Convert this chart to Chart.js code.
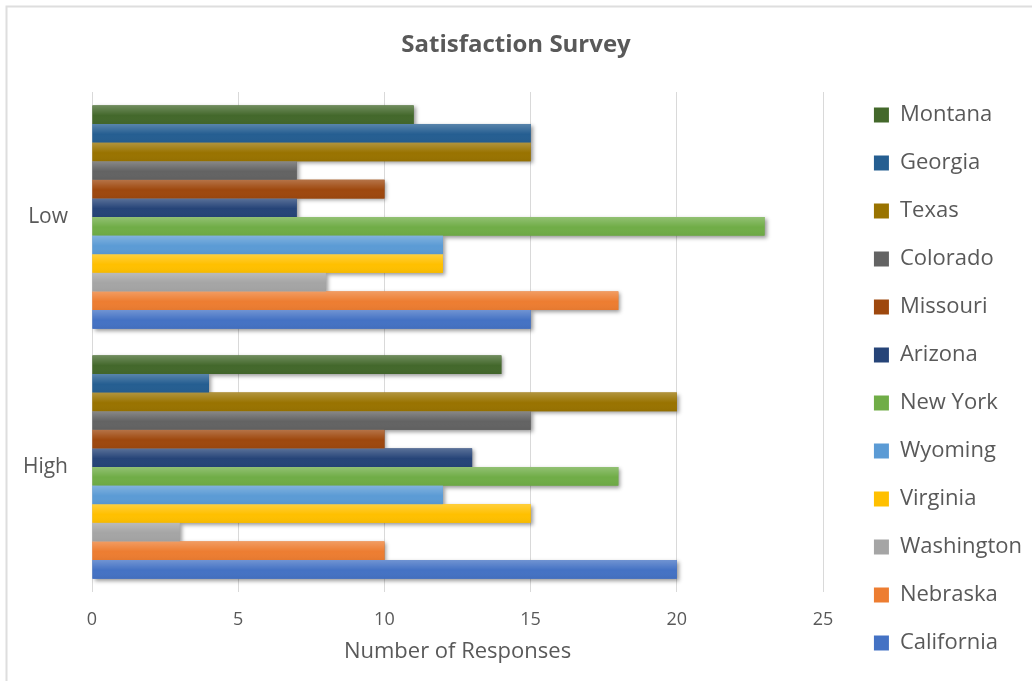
<!DOCTYPE html>
<html>
<head>
<meta charset="utf-8">
<script src="https://cdn.jsdelivr.net/npm/chart.js@4/dist/chart.umd.min.js"></script>
<style>
  html, body { margin: 0; padding: 0; background: #fff; }
  #wrap { width: 1032px; height: 681px; }
</style>
</head>
<body>
<div id="wrap"><canvas id="survey-chart" width="1032" height="681"></canvas></div>
<script>
  'use strict';

  const categories = ['High', 'Low'];
  const xTicks = [0, 5, 10, 15, 20, 25];

  const montana = [14, 11];
  const georgia = [4, 15];
  const texas = [20, 15];
  const colorado = [15, 7];
  const missouri = [10, 10];
  const arizona = [13, 7];
  const newYork = [18, 23];
  const wyoming = [12, 12];
  const virginia = [15, 12];
  const washington = [3, 8];
  const nebraska = [10, 18];
  const california = [20, 15];

  const textColor = '#595959';
  const font = "'Open Sans', 'Noto Sans', sans-serif";

  // listed top to bottom, same as the legend
  const series = [
    ['Montana', montana, '#43682B'],
    ['Georgia', georgia, '#255E91'],
    ['Texas', texas, '#997300'],
    ['Colorado', colorado, '#636363'],
    ['Missouri', missouri, '#9E480E'],
    ['Arizona', arizona, '#264478'],
    ['New York', newYork, '#70AD47'],
    ['Wyoming', wyoming, '#5B9BD5'],
    ['Virginia', virginia, '#FFC000'],
    ['Washington', washington, '#A5A5A5'],
    ['Nebraska', nebraska, '#ED7D31'],
    ['California', california, '#4472C4']
  ];

  // light outline on the top and left edges like the original chart frame
  const frame = {
    id: 'frame',
    beforeDraw(chart) {
      const ctx = chart.ctx;
      ctx.save();
      ctx.fillStyle = '#ffffff';
      ctx.fillRect(0, 0, chart.width, chart.height);
      ctx.strokeStyle = '#dedede';
      ctx.lineWidth = 2;
      ctx.strokeRect(6.5, 6.5, chart.width + 20, chart.height + 20);
      ctx.restore();
    }
  };

  function eachBar(chart, fn) {
    chart.data.datasets.forEach((ds, i) => {
      chart.getDatasetMeta(i).data.forEach((bar) => {
        const p = bar.getProps(['x', 'y', 'base', 'height'], true);
        fn(ds, {
          left: Math.min(p.base, p.x),
          top: p.y - p.height / 2,
          w: Math.abs(p.x - p.base),
          h: p.height
        });
      });
    });
  }

  // soft drop shadow under the bars, then a top highlight over them
  const barShade = {
    id: 'barShade',
    beforeDatasetsDraw(chart) {
      const ctx = chart.ctx;
      eachBar(chart, (ds, r) => {
        ctx.save();
        ctx.shadowColor = 'rgba(0, 0, 0, 0.4)';
        ctx.shadowBlur = 4;
        ctx.shadowOffsetX = 2;
        ctx.shadowOffsetY = 2;
        ctx.fillStyle = ds.backgroundColor;
        ctx.fillRect(r.left, r.top, r.w, r.h);
        ctx.restore();
      });
    },
    afterDatasetsDraw(chart) {
      const ctx = chart.ctx;
      eachBar(chart, (ds, r) => {
        const g = ctx.createLinearGradient(0, r.top, 0, r.top + r.h);
        g.addColorStop(0, 'rgba(255, 255, 255, 0.24)');
        g.addColorStop(0.55, 'rgba(255, 255, 255, 0)');
        g.addColorStop(1, 'rgba(0, 0, 0, 0.04)');
        ctx.save();
        ctx.fillStyle = g;
        ctx.fillRect(r.left, r.top, r.w, r.h);
        ctx.restore();
      });
    }
  };

  const canvas = document.getElementById('survey-chart');
  new Chart(canvas, {
    type: 'bar',
    data: {
      labels: categories,
      datasets: series.map(([name, values, color]) => ({
        label: name,
        data: values,
        backgroundColor: color,
        borderWidth: 0,
        categoryPercentage: 0.893,
        barPercentage: 1
      }))
    },
    options: {
      indexAxis: 'y',
      responsive: false,
      animation: false,
      layout: { padding: 0 },
      plugins: {
        title: {
          display: true,
          text: 'Satisfaction Survey',
          color: textColor,
          font: { family: font, size: 24, weight: 'bold', lineHeight: 1 },
          padding: { top: 33, bottom: 0 }
        },
        legend: {
          display: true,
          position: 'right',
          maxWidth: 240,
          title: {
            display: true,
            text: '',
            font: { size: 10, lineHeight: 1 },
            padding: { top: 67, bottom: 0 }
          },
          labels: {
            color: textColor,
            font: { family: font, size: 22 },
            boxWidth: 15,
            boxHeight: 15,
            padding: 26
          }
        },
        tooltip: { enabled: false }
      },
      scales: {
        x: {
          type: 'linear',
          position: 'bottom',
          min: 0,
          max: 25,
          afterBuildTicks: (scale) => {
            scale.ticks = xTicks.map((v) => ({ value: v }));
          },
          afterFit: (scale) => { scale.height = 89; },
          grid: {
            color: '#d9d9d9',
            lineWidth: 1,
            drawTicks: false
          },
          border: { display: false },
          ticks: {
            color: textColor,
            font: { family: font, size: 18 },
            padding: 17
          },
          title: {
            display: true,
            text: 'Number of Responses',
            color: textColor,
            font: { family: font, size: 22, lineHeight: 1.15 },
            padding: { top: 0, bottom: 17 }
          }
        },
        xTop: {
          type: 'linear',
          position: 'top',
          display: true,
          afterFit: (scale) => { scale.height = 35; },
          grid: { display: false, drawTicks: false },
          border: { display: false },
          ticks: { display: false }
        },
        y: {
          type: 'category',
          reverse: true,
          afterFit: (scale) => { scale.width = 92; },
          grid: { display: false, drawTicks: false },
          border: { display: false },
          ticks: {
            color: textColor,
            font: { family: font, size: 21 },
            padding: 24
          }
        },
        yRight: {
          type: 'linear',
          position: 'right',
          display: true,
          afterFit: (scale) => {
            const legendW = scale.chart.legend ? scale.chart.legend.width : 0;
            scale.width = Math.max(0, 1032 - legendW - 823);
          },
          grid: { display: false, drawTicks: false },
          border: { display: false },
          ticks: { display: false }
        }
      }
    },
    plugins: [frame, barShade]
  });
</script>
</body>
</html>
